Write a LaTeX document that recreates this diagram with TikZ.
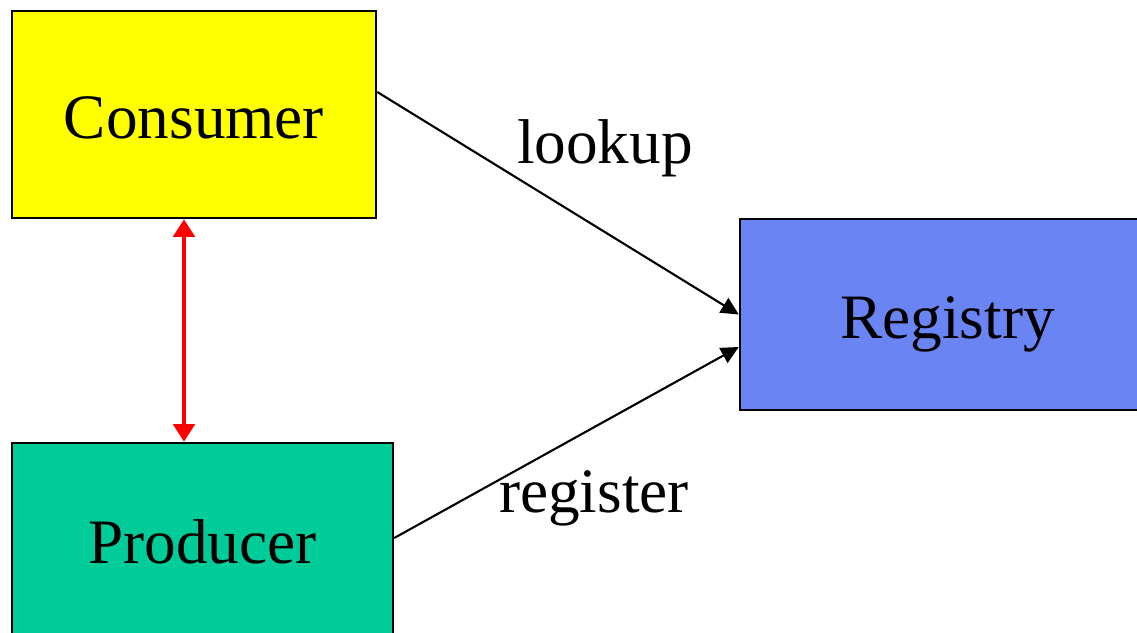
\documentclass[tikz,border=0pt]{standalone}
\usepackage{fontspec}
\setmainfont{Liberation Serif}
\usepackage{xcolor}
\definecolor{cyellow}{RGB}{255,255,0}
\definecolor{pgreen}{RGB}{0,204,153}
\definecolor{rblue}{RGB}{107,132,243}
\usetikzlibrary{arrows.meta, positioning, calc}

\tikzset{
  box/.style={draw=black, line width=0.7pt, inner sep=0pt, text height=13.4pt, text depth=0pt,
    font=\fontsize{18}{20}\selectfont},
  link/.style={-{Triangle[length=5pt, width=4.8pt]}, line width=0.6pt, black},
  lbl/.style={font=\fontsize{18}{20}\selectfont}
}

\begin{document}
\begin{tikzpicture}
  \useasboundingbox (0,0) rectangle (11.37,-6.33);
  % boxes
  \node[box, fill=cyellow, minimum width=3.64cm, minimum height=2.07cm] (consumer) at (1.94,-1.145) {Consumer};
  \node[box, fill=pgreen, minimum width=3.81cm, minimum height=1.94cm] (producer) at (2.025,-5.40) {Producer};
  \node[box, fill=rblue, minimum width=4.15cm, minimum height=1.91cm] (registry) at (9.475,-3.145) {Registry};
  % connectors
  \draw[{Triangle[length=5pt, width=6pt]}-{Triangle[length=5pt, width=6pt]}, line width=1.4pt, red]
       ([xshift=-0.1cm]consumer.south) -- ([xshift=-0.185cm]producer.north);
  \draw[link] ([yshift=0.225cm]consumer.east) -- (registry.west);
  \draw[link] ([yshift=0.02cm]producer.east) -- ([yshift=-0.325cm]registry.west);
  % labels
  \node[lbl] (lookuplbl) at (6.05,-1.48) {lookup};
  \node[lbl] (registerlbl) at (5.94,-4.98) {register};
\end{tikzpicture}
\end{document}
